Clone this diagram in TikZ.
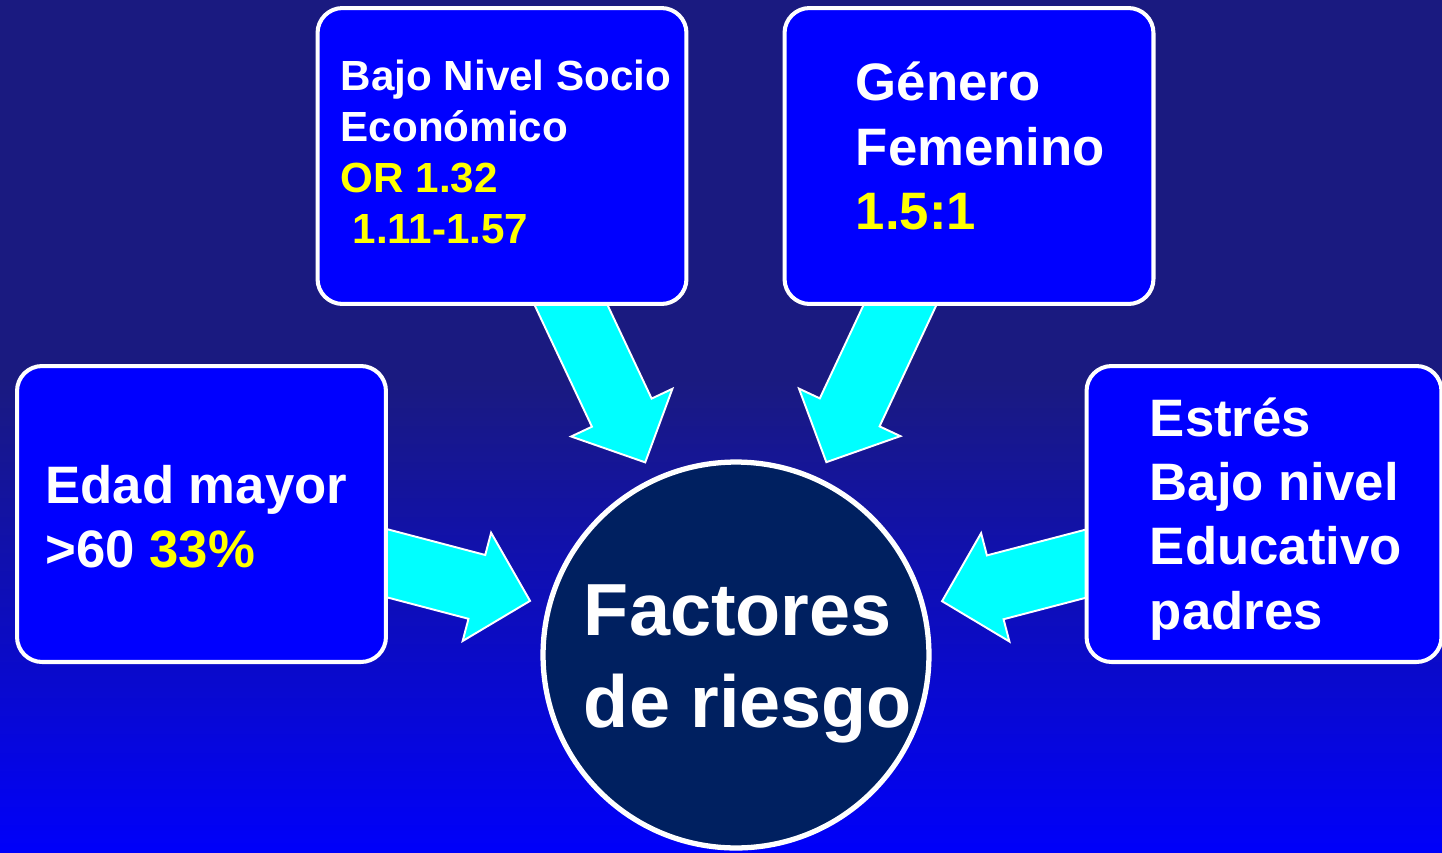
\documentclass[tikz,border=0pt]{standalone}
\usepackage{fontspec}
\setmainfont{Liberation Sans}
\usetikzlibrary{calc}
\definecolor{fondoA}{RGB}{26,26,128}
\definecolor{fondoB}{RGB}{0,0,250}
\definecolor{azulcaja}{RGB}{0,0,255}
\definecolor{marino}{RGB}{0,32,96}
\definecolor{amarillo}{RGB}{255,255,0}
\definecolor{cian}{RGB}{0,255,255}
\pgfdeclarelayer{fondo}
\pgfdeclarelayer{flechas}
\pgfsetlayers{fondo,flechas,main}
\tikzset{
  caja/.style={draw=white, line width=2.3pt, fill=azulcaja, rounded corners=0.5cm,
    minimum width=7.38cm, minimum height=5.92cm, inner sep=0pt},
  txt/.style={text=white, font=\bfseries, align=left, inner sep=0pt, anchor=west},
  flecha/.style={draw=white, line width=1.1pt, fill=cian, line join=miter}
}
\begin{document}
\begin{tikzpicture}[x=0.02cm, y=-0.02cm]
\useasboundingbox (0,0) rectangle (1442,852);
\begin{pgfonlayer}{fondo}
  \fill[fondoA] (0,0) rectangle (1442,381);
  \shade[top color=fondoA, bottom color=fondoB] (0,380) rectangle (1442,852);
\end{pgfonlayer}
% cajas
\node[caja] (socio) at (502,156) {};
\node[caja] (genero) at (969,156) {};
\node[caja] (edad) at (201.5,514) {};
\node[caja, minimum width=7.1cm] (estres) at (1264,514) {};
\node[circle, draw=white, line width=3pt, fill=marino, minimum size=7.72cm, inner sep=0pt] (factores) at (736,655) {};
% textos
\node[txt, font=\bfseries\fontsize{24}{29}\selectfont] (tsocio) at ($(socio.west)+(25,-4)$)
  {Bajo Nivel Socio\\Económico\\\textcolor{amarillo}{OR 1.32}\\\textcolor{amarillo}{\ 1.11-1.57}};
\node[txt, font=\bfseries\fontsize{30}{36.5}\selectfont] (tgenero) at ($(genero.west)+(73,-10)$)
  {Género\\Femenino\\\textcolor{amarillo}{1.5:1}};
\node[txt, font=\bfseries\fontsize{30}{36.5}\selectfont] (tedad) at ($(edad.west)+(30,3)$)
  {Edad mayor\\>60 \textcolor{amarillo}{33\%}};
\node[txt, font=\bfseries\fontsize{30}{36.5}\selectfont] (testres) at ($(estres.west)+(65,5)$)
  {Estrés\\Bajo nivel\\Educativo\\padres};
\node[txt, anchor=center, font=\bfseries\fontsize{42}{52.5}\selectfont] (tfact) at ($(factores.center)+(12,9)$)
  {Factores\\de riesgo};
% flechas
\coordinate (a1) at ($(socio.south)+(69.5,0)$);
\coordinate (a2) at ($(genero.south)+(-69.5,0)$);
\coordinate (a3) at ($(edad.east)+(0,49.5)$);
\coordinate (a4) at ($(estres.west)+(0,50)$);
\begin{pgfonlayer}{flechas}
\foreach \a in {a1,a2,a3,a4}{
  \coordinate (s) at ($(\a)!-0.5cm!(factores.center)$);
  \coordinate (t) at ($(factores.center)!4.26cm!(\a)$);
  \coordinate (n) at ($(factores.center)!5.36cm!(\a)$);
  \draw[flecha] ($(s)!0.66cm!90:(t)$) -- ($(n)!0.66cm!90:(t)$) -- ($(n)!1.12cm!90:(t)$) -- (t)
    -- ($(n)!1.12cm!-90:(t)$) -- ($(n)!0.66cm!-90:(t)$) -- ($(s)!0.66cm!-90:(t)$) -- cycle;
}
\end{pgfonlayer}
\end{tikzpicture}
\end{document}
